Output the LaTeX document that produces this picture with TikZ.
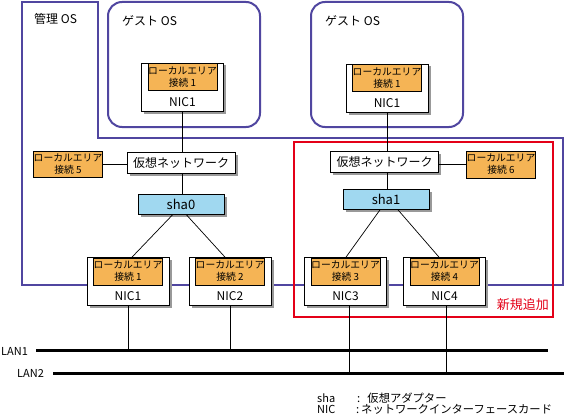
\documentclass[tikz,border=0pt]{standalone}
\usepackage{fontspec}
\setmainfont{Noto Sans CJK JP}
\usetikzlibrary{shadows}
\definecolor{framecol}{RGB}{80,70,160}
\definecolor{lanorange}{RGB}{245,180,85}
\definecolor{shablue}{RGB}{160,216,240}
\definecolor{newred}{RGB}{228,0,24}
\tikzset{
  osframe/.style={draw=framecol, line width=2pt},
  guestframe/.style={draw=framecol, line width=2pt, rounded corners=14pt},
  newframe/.style={draw=newred, line width=1.6pt},
  myshadow/.style={drop shadow={shadow xshift=2.5pt, shadow yshift=-2.5pt, fill=black!40, opacity=1}},
  nicouter/.style={draw=black, line width=0.7pt, fill=white, minimum width=82pt, minimum height=48pt, inner sep=0pt, myshadow},
  lanbox/.style={draw=black, line width=0.7pt, fill=lanorange, minimum width=69pt, minimum height=27pt, inner sep=0pt, align=center, font=\fontsize{9.8}{12}\selectfont},
  nictext/.style={inner sep=0pt, font=\fontsize{12}{14}\selectfont},
  vnetbox/.style={draw=black, line width=0.7pt, fill=white, minimum width=108pt, minimum height=21pt, inner sep=0pt, font=\fontsize{12}{14}\selectfont, myshadow},
  shabox/.style={draw=black, line width=0.7pt, fill=shablue, minimum width=86pt, minimum height=20pt, inner sep=0pt, font=\fontsize{13}{15}\selectfont, myshadow},
  conn/.style={draw=black, line width=0.7pt},
  lanline/.style={draw=black, line width=3pt},
  lbl/.style={inner sep=0pt, font=\fontsize{12}{14}\selectfont},
  smalllbl/.style={inner sep=0pt, font=\fontsize{11}{13}\selectfont},
  legtext/.style={inner sep=0pt, font=\fontsize{11.3}{13}\selectfont},
}
\newcommand\nicbox[5]{%
  \node[nicouter] (#1) at (#2,#3) {};
  \node[lanbox, anchor=north] (#1l) at ([yshift=-0.5pt]#1.north) {ローカルエリア\\接続 #4};
  \node[nictext] (#1t) at ([yshift=-39pt]#1.north) {#5};
}
\begin{document}
\begin{tikzpicture}[x=1pt,y=-1pt]
\useasboundingbox (0,0) rectangle (564,417);
\fill[white] (0,0) rectangle (564,417);
% management OS frame
\draw[osframe] (22,2) -- (98,2) -- (98,138) -- (563,138) -- (563,285) -- (22,285) -- cycle;
% guest OS frames
\draw[guestframe] (108,2) rectangle (260,127);
\draw[guestframe] (311,2) rectangle (463,127);
% new addition frame
\draw[newframe] (294,142) rectangle (553,317);
% labels
\node[lbl, anchor=west] (mgmt) at (34,19) {管理 OS};
\node[lbl, anchor=west] (guest1t) at (122,21) {ゲスト OS};
\node[lbl, anchor=west] (guest2t) at (325,21) {ゲスト OS};
\node[inner sep=0pt, anchor=east, text=newred, font=\fontsize{13}{15}\selectfont] (newt) at (549,305) {新規追加};
% guest NICs
\nicbox{gnicA}{182.5}{87}{1}{NIC1}
\nicbox{gnicB}{387}{88}{1}{NIC1}
% virtual networks
\node[vnetbox] (vnetA) at (181,163) {仮想ネットワーク};
\node[vnetbox] (vnetB) at (384.5,162) {仮想ネットワーク};
% local connections 5 / 6
\node[lanbox, minimum width=68pt, minimum height=26pt] (lan5) at (68,164) {ローカルエリア\\接続 5};
\node[lanbox, minimum width=68pt, minimum height=27pt] (lan6) at (501,164.5) {ローカルエリア\\接続 6};
% sha adapters
\node[shabox] (sha0) at (181,204) {sha0};
\node[shabox] (sha1) at (386,199.5) {sha1};
% physical NICs
\nicbox{nicA}{128}{281.5}{1}{NIC1}
\nicbox{nicB}{230}{281.5}{2}{NIC2}
\nicbox{nicC}{345.5}{281.5}{3}{NIC3}
\nicbox{nicD}{444.5}{281.5}{4}{NIC4}
% LAN lines
\coordinate (lan1w) at (36,350);
\coordinate (lan1e) at (548,350);
\coordinate (lan2w) at (53,373);
\coordinate (lan2e) at (564,373);
\draw[lanline] (lan1w) -- (lan1e);
\draw[lanline] (lan2w) -- (lan2e);
\node[smalllbl, anchor=west] (lan1t) at (1,351) {LAN1};
\node[smalllbl, anchor=west] (lan2t) at (17,373) {LAN2};
% connectors
\draw[conn] (gnicA.south) -- (gnicA.south |- vnetA.north);
\draw[conn] (gnicA.south |- vnetA.south) -- (gnicA.south |- sha0.north);
\draw[conn] (gnicB.south) -- (gnicB.south |- vnetB.north);
\draw[conn] (gnicB.south |- vnetB.south) -- (gnicB.south |- sha1.north);
\draw[conn] (lan5.east) -- (lan5.east -| vnetA.west);
\draw[conn] (vnetB.east |- lan6.west) -- (lan6.west);
\draw[conn] ([xshift=-8pt]sha0.south) -- ([xshift=4pt]nicA.north);
\draw[conn] ([xshift=5pt]sha0.south) -- ([xshift=-5pt]nicB.north);
\draw[conn] ([xshift=-6pt]sha1.south) -- ([xshift=0.5pt]nicC.north);
\draw[conn] ([xshift=12pt]sha1.south) -- ([xshift=-5.5pt]nicD.north);
\draw[conn] (nicA.south) -- (nicA.south |- lan1w);
\draw[conn] (nicB.south) -- (nicB.south |- lan1w);
\draw[conn] ([xshift=3.5pt]nicC.south) -- ([xshift=3.5pt]nicC.south |- lan2w);
\draw[conn] ([xshift=1.5pt]nicD.south) -- ([xshift=1.5pt]nicD.south |- lan2w);
% legend
\node[smalllbl, anchor=west] (legsha) at (317,398.5) {sha};
\node[legtext, anchor=west] (legshad) at (357,398.5) {:\,\, 仮想アダプター};
\node[smalllbl, anchor=west] (legnic) at (317,409.5) {NIC};
\node[legtext, anchor=west] (legnicd) at (356,409.5) {:\,ネットワークインターフェースカード};
\end{tikzpicture}
\end{document}
